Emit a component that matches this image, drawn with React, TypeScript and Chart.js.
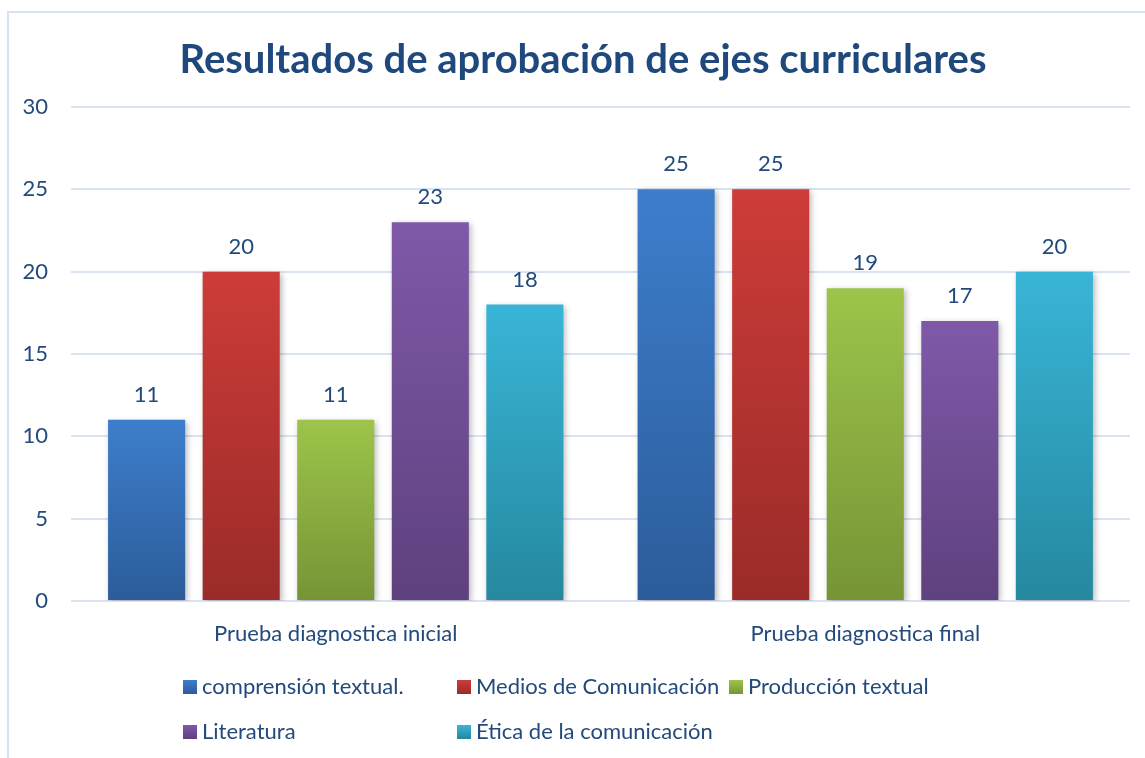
import React, { useEffect, useRef } from "react";
import { Chart, registerables } from "chart.js";

Chart.register(...registerables);

const titleText = "Resultados de aprobación de ejes curriculares";
const categories = ["Prueba diagnostica inicial", "Prueba diagnostica final"];
const seriesNames = [
  "comprensión textual.",
  "Medios de Comunicación",
  "Producción textual",
  "Literatura",
  "Ética de la comunicación",
];
const comprension = [11, 25];
const medios = [20, 25];
const produccion = [11, 19];
const literatura = [23, 17];
const etica = [18, 20];
const seriesValues = [comprension, medios, produccion, literatura, etica];
const topColors = ["#3d7ecc", "#cd3c38", "#9dc44a", "#7f59a8", "#39b5d7"];
const bottomColors = ["#2c5c9a", "#9a2b29", "#769436", "#5e417e", "#25889f"];

const FONT = "Lato, 'Open Sans', sans-serif";
const TEXT = "#234a7c";

export default function App() {
  const ref = useRef<HTMLCanvasElement>(null);

  useEffect(() => {
    document.body.style.margin = "0";
    const canvas = ref.current!;
    const datasets = seriesNames.map((name, i) => ({
      label: name,
      data: seriesValues[i],
      backgroundColor: (ctx: any) => {
        const chart = ctx.chart;
        const ys = chart.scales && chart.scales.y;
        if (!chart.chartArea || !ys || ctx.raw == null) return topColors[i];
        const top = ys.getPixelForValue(ctx.raw);
        const base = ys.getPixelForValue(0);
        if (!isFinite(top) || !isFinite(base) || top === base) return topColors[i];
        const g = chart.ctx.createLinearGradient(0, top, 0, base);
        g.addColorStop(0, topColors[i]);
        g.addColorStop(1, bottomColors[i]);
        return g;
      },
      borderWidth: 0,
      barPercentage: 0.815,
      categoryPercentage: 0.893,
    }));

    const shadowPlugin = {
      id: "shadow",
      beforeDatasetsDraw(chart: any) {
        const c = chart.ctx;
        c.save();
        c.shadowColor = "rgba(0,0,0,0.28)";
        c.shadowBlur = 6;
        c.shadowOffsetX = 2;
        c.shadowOffsetY = 2;
      },
      afterDatasetsDraw(chart: any) {
        chart.ctx.restore();
      },
    };

    const decorPlugin = {
      id: "decor",
      beforeDraw(chart: any) {
        const c = chart.ctx;
        c.save();
        c.fillStyle = "#ffffff";
        c.fillRect(0, 0, chart.width, chart.height);
        c.strokeStyle = "#d6e2f1";
        c.lineWidth = 2;
        c.strokeRect(8, 12, chart.width + 20, chart.height + 20);
        c.restore();
      },
      afterDraw(chart: any) {
        const c = chart.ctx;
        c.save();
        // title
        c.font = `bold 40px ${FONT}`;
        c.fillStyle = "#1f497d";
        c.textAlign = "center";
        c.textBaseline = "middle";
        c.fillText(titleText, 583, 60);
        // data labels
        c.font = `22px ${FONT}`;
        c.fillStyle = TEXT;
        c.textBaseline = "middle";
        chart.data.datasets.forEach((ds: any, di: number) => {
          const meta = chart.getDatasetMeta(di);
          meta.data.forEach((bar: any, j: number) => {
            c.fillText(String(ds.data[j]), bar.x, bar.y - 25);
          });
        });
        // legend
        const cols = [183, 457, 729];
        const rows = [687, 732];
        c.textAlign = "left";
        chart.data.datasets.forEach((ds: any, di: number) => {
          const x = cols[di % 3];
          const y = rows[Math.floor(di / 3)];
          const g = c.createLinearGradient(0, y - 7, 0, y + 7);
          g.addColorStop(0, topColors[di]);
          g.addColorStop(1, bottomColors[di]);
          c.fillStyle = g;
          c.fillRect(x, y - 7, 14, 14);
          c.fillStyle = TEXT;
          c.fillText(ds.label, x + 19, y);
        });
        c.restore();
      },
    };

    const chart = new Chart(canvas, {
      type: "bar",
      data: { labels: categories, datasets },
      options: {
        responsive: false,
        animation: false,
        devicePixelRatio: 1,
        layout: { padding: { top: 107, right: 15, bottom: 0, left: 0 } },
        plugins: {
          legend: { display: false },
          title: { display: false },
          tooltip: { enabled: false },
        },
        scales: {
          x: {
            grid: { display: false, drawTicks: false },
            border: { display: false },
            ticks: {
              color: TEXT,
              font: { family: FONT, size: 22 },
              padding: 20,
            },
            afterFit: (s: any) => {
              s.height = 157;
            },
          },
          y: {
            min: 0,
            max: 30,
            ticks: {
              stepSize: 5,
              color: TEXT,
              font: { family: FONT, size: 22 },
              padding: 23,
            },
            grid: { color: "#d9e3f1", lineWidth: 2, drawTicks: false },
            border: { display: false },
            afterFit: (s: any) => {
              s.width = 71;
            },
          },
        },
      },
      plugins: [decorPlugin, shadowPlugin],
    });
    return () => chart.destroy();
  }, []);

  return (
    <canvas
      ref={ref}
      width={1145}
      height={758}
      style={{ display: "block", width: 1145, height: 758 }}
    />
  );
}
